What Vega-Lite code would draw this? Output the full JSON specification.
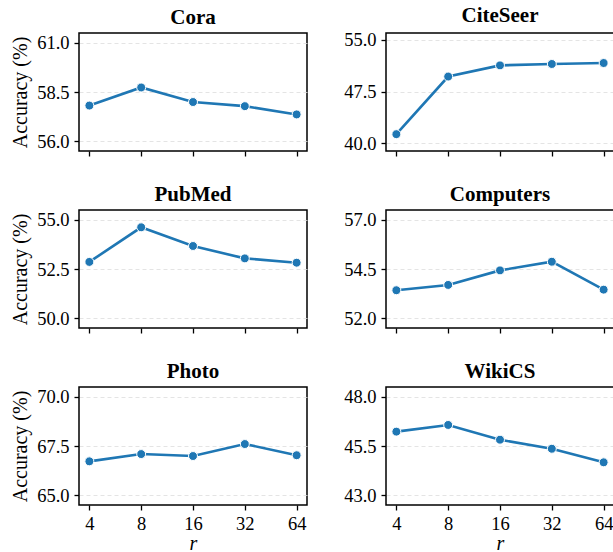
{
  "$schema": "https://vega.github.io/schema/vega-lite/v6.json",
  "padding": {"left": 9, "top": 4, "right": 2, "bottom": 0},
  "data": {"values": [
    {"dataset": "Cora", "r": 4, "acc": 57.81},
    {"dataset": "Cora", "r": 8, "acc": 58.73},
    {"dataset": "Cora", "r": 16, "acc": 57.99},
    {"dataset": "Cora", "r": 32, "acc": 57.78},
    {"dataset": "Cora", "r": 64, "acc": 57.36},
    {"dataset": "CiteSeer", "r": 4, "acc": 41.34},
    {"dataset": "CiteSeer", "r": 8, "acc": 49.69},
    {"dataset": "CiteSeer", "r": 16, "acc": 51.31},
    {"dataset": "CiteSeer", "r": 32, "acc": 51.51},
    {"dataset": "CiteSeer", "r": 64, "acc": 51.65},
    {"dataset": "PubMed", "r": 4, "acc": 52.86},
    {"dataset": "PubMed", "r": 8, "acc": 54.62},
    {"dataset": "PubMed", "r": 16, "acc": 53.67},
    {"dataset": "PubMed", "r": 32, "acc": 53.04},
    {"dataset": "PubMed", "r": 64, "acc": 52.82},
    {"dataset": "Computers", "r": 4, "acc": 53.42},
    {"dataset": "Computers", "r": 8, "acc": 53.69},
    {"dataset": "Computers", "r": 16, "acc": 54.43},
    {"dataset": "Computers", "r": 32, "acc": 54.87},
    {"dataset": "Computers", "r": 64, "acc": 53.45},
    {"dataset": "Photo", "r": 4, "acc": 66.72},
    {"dataset": "Photo", "r": 8, "acc": 67.09},
    {"dataset": "Photo", "r": 16, "acc": 66.99},
    {"dataset": "Photo", "r": 32, "acc": 67.60},
    {"dataset": "Photo", "r": 64, "acc": 67.03},
    {"dataset": "WikiCS", "r": 4, "acc": 46.23},
    {"dataset": "WikiCS", "r": 8, "acc": 46.57},
    {"dataset": "WikiCS", "r": 16, "acc": 45.82},
    {"dataset": "WikiCS", "r": 32, "acc": 45.36},
    {"dataset": "WikiCS", "r": 64, "acc": 44.67}
  ]},
  "columns": 2,
  "bounds": "flush",
  "spacing": {"row": 59, "column": 79},
  "concat": [
    {
      "title": {"text": "Cora", "font": "Times New Roman"}, "width": 228, "height": 118,
      "transform": [{"filter": "datum.dataset === 'Cora'"}],
      "encoding": {
        "x": {"field": "r", "type": "ordinal", "scale": {"type": "point", "padding": 0.2}, "axis": {"labels": false, "title": null}},
        "y": {"field": "acc", "type": "quantitative", "scale": {"domain": [55.5, 61.5], "zero": false, "nice": false}, "axis": {"values": [56, 58.5, 61], "format": ".1f", "title": "Accuracy (%)", "labelFont": "Times New Roman", "titleFont": "Times New Roman"}}
      },
      "layer": [
        {"mark": {"type": "line", "color": "#1f77b4", "strokeWidth": 2.6}},
        {"mark": {"type": "circle", "color": "#1f77b4", "opacity": 1, "size": 80, "stroke": "white", "strokeWidth": 1}}
      ]
    },
    {
      "title": {"text": "CiteSeer", "font": "Times New Roman"}, "width": 228, "height": 118,
      "transform": [{"filter": "datum.dataset === 'CiteSeer'"}],
      "encoding": {
        "x": {"field": "r", "type": "ordinal", "scale": {"type": "point", "padding": 0.2}, "axis": {"labels": false, "title": null}},
        "y": {"field": "acc", "type": "quantitative", "scale": {"domain": [38.9, 56.0], "zero": false, "nice": false}, "axis": {"values": [40, 47.5, 55], "format": ".1f", "title": null, "labelFont": "Times New Roman"}}
      },
      "layer": [
        {"mark": {"type": "line", "color": "#1f77b4", "strokeWidth": 2.6}},
        {"mark": {"type": "circle", "color": "#1f77b4", "opacity": 1, "size": 80, "stroke": "white", "strokeWidth": 1}}
      ]
    },
    {
      "title": {"text": "PubMed", "font": "Times New Roman"}, "width": 228, "height": 118,
      "transform": [{"filter": "datum.dataset === 'PubMed'"}],
      "encoding": {
        "x": {"field": "r", "type": "ordinal", "scale": {"type": "point", "padding": 0.2}, "axis": {"labels": false, "title": null}},
        "y": {"field": "acc", "type": "quantitative", "scale": {"domain": [49.5, 55.5], "zero": false, "nice": false}, "axis": {"values": [50, 52.5, 55], "format": ".1f", "title": "Accuracy (%)", "labelFont": "Times New Roman", "titleFont": "Times New Roman"}}
      },
      "layer": [
        {"mark": {"type": "line", "color": "#1f77b4", "strokeWidth": 2.6}},
        {"mark": {"type": "circle", "color": "#1f77b4", "opacity": 1, "size": 80, "stroke": "white", "strokeWidth": 1}}
      ]
    },
    {
      "title": {"text": "Computers", "font": "Times New Roman"}, "width": 228, "height": 118,
      "transform": [{"filter": "datum.dataset === 'Computers'"}],
      "encoding": {
        "x": {"field": "r", "type": "ordinal", "scale": {"type": "point", "padding": 0.2}, "axis": {"labels": false, "title": null}},
        "y": {"field": "acc", "type": "quantitative", "scale": {"domain": [51.5, 57.5], "zero": false, "nice": false}, "axis": {"values": [52, 54.5, 57], "format": ".1f", "title": null, "labelFont": "Times New Roman"}}
      },
      "layer": [
        {"mark": {"type": "line", "color": "#1f77b4", "strokeWidth": 2.6}},
        {"mark": {"type": "circle", "color": "#1f77b4", "opacity": 1, "size": 80, "stroke": "white", "strokeWidth": 1}}
      ]
    },
    {
      "title": {"text": "Photo", "font": "Times New Roman"}, "width": 228, "height": 118,
      "transform": [{"filter": "datum.dataset === 'Photo'"}],
      "encoding": {
        "x": {"field": "r", "type": "ordinal", "scale": {"type": "point", "padding": 0.2}, "axis": {"labelAngle": 0, "title": "r", "titleFontStyle": "italic", "labelFont": "Times New Roman", "titleFont": "Times New Roman"}},
        "y": {"field": "acc", "type": "quantitative", "scale": {"domain": [64.5, 70.5], "zero": false, "nice": false}, "axis": {"values": [65, 67.5, 70], "format": ".1f", "title": "Accuracy (%)", "labelFont": "Times New Roman", "titleFont": "Times New Roman"}}
      },
      "layer": [
        {"mark": {"type": "line", "color": "#1f77b4", "strokeWidth": 2.6}},
        {"mark": {"type": "circle", "color": "#1f77b4", "opacity": 1, "size": 80, "stroke": "white", "strokeWidth": 1}}
      ]
    },
    {
      "title": {"text": "WikiCS", "font": "Times New Roman"}, "width": 228, "height": 118,
      "transform": [{"filter": "datum.dataset === 'WikiCS'"}],
      "encoding": {
        "x": {"field": "r", "type": "ordinal", "scale": {"type": "point", "padding": 0.2}, "axis": {"labelAngle": 0, "title": "r", "titleFontStyle": "italic", "labelFont": "Times New Roman", "titleFont": "Times New Roman"}},
        "y": {"field": "acc", "type": "quantitative", "scale": {"domain": [42.5, 48.5], "zero": false, "nice": false}, "axis": {"values": [43, 45.5, 48], "format": ".1f", "title": null, "labelFont": "Times New Roman"}}
      },
      "layer": [
        {"mark": {"type": "line", "color": "#1f77b4", "strokeWidth": 2.6}},
        {"mark": {"type": "circle", "color": "#1f77b4", "opacity": 1, "size": 80, "stroke": "white", "strokeWidth": 1}}
      ]
    }
  ],
  "config": {
    "font": "Times New Roman",
    "view": {"stroke": "black", "strokeWidth": 1.5},
    "axis": {
      "domain": false,
      "tickColor": "black", "tickSize": 5, "tickWidth": 1.3,
      "labelFontSize": 18.5, "labelColor": "black",
      "titleFontSize": 20, "titleFontWeight": "normal", "titleColor": "black",
      "gridColor": "#dddddd", "gridDash": [4, 3], "gridWidth": 0.8
    },
    "axisX": {"grid": false, "labelPadding": 4, "titlePadding": 1},
    "axisY": {"grid": true, "labelPadding": 5, "titlePadding": 6},
    "title": {"fontSize": 21, "fontWeight": "bold", "color": "black", "offset": 5}
  }
}
